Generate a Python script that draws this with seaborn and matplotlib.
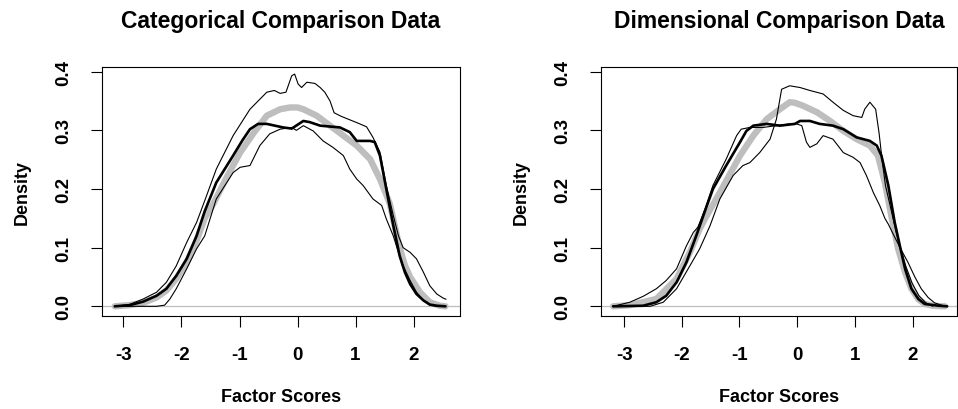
import matplotlib
matplotlib.use("Agg")
import matplotlib.pyplot as plt
import seaborn as sns

# ---------------- data ----------------
titles = ["Categorical Comparison Data", "Dimensional Comparison Data"]
x_label = "Factor Scores"
y_label = "Density"
x_ticks = [-3, -2, -1, 0, 1, 2]
y_ticks = [0.0, 0.1, 0.2, 0.3, 0.4]
y_tick_labels = ["0.0", "0.1", "0.2", "0.3", "0.4"]

# Categorical panel
cat_gray_x = [-3.15, -2.9, -2.66, -2.43, -2.26, -2.09, -1.91, -1.74, -1.60, -1.45, -1.22, -0.99,
              -0.76, -0.53, -0.30, -0.13, 0.0, 0.10, 0.33, 0.56, 0.79, 1.02, 1.25, 1.42, 1.51,
              1.59, 1.68, 1.76, 1.85, 1.94, 2.11, 2.28, 2.45, 2.55]
cat_gray_y = [0.0, 0.002, 0.006, 0.015, 0.027, 0.047, 0.075, 0.112, 0.15, 0.175, 0.22, 0.262,
              0.295, 0.325, 0.336, 0.339, 0.339, 0.336, 0.325, 0.308, 0.291, 0.274, 0.251, 0.217, 0.195,
              0.175, 0.135, 0.10, 0.07, 0.05, 0.024, 0.007, 0.001, 0.0]

cat_thick_x = [-3.15, -2.89, -2.66, -2.43, -2.26, -2.09, -1.91, -1.74, -1.60, -1.40, -1.11, -0.95,
               -0.82, -0.68, -0.53, -0.25, -0.10, 0.10, 0.21, 0.39, 0.73, 0.90, 1.02, 1.25, 1.33,
               1.42, 1.53, 1.65, 1.76, 1.85, 1.94, 2.05, 2.17, 2.28, 2.40, 2.55]
cat_thick_y = [0.0, 0.002, 0.008, 0.018, 0.03, 0.052, 0.081, 0.12, 0.162, 0.211, 0.257, 0.283,
               0.302, 0.311, 0.311, 0.305, 0.303, 0.316, 0.314, 0.308, 0.305, 0.297, 0.282, 0.282, 0.280,
               0.257, 0.2, 0.138, 0.086, 0.058, 0.038, 0.021, 0.010, 0.003, 0.001, 0.0]

cat_hi_x = [-3.15, -2.9, -2.66, -2.43, -2.26, -2.09, -1.91, -1.74, -1.60, -1.40, -1.11, -0.82,
            -0.53, -0.40, -0.30, -0.20, -0.10, -0.05, 0.01, 0.07, 0.16, 0.30, 0.39, 0.47, 0.56,
            0.63, 0.75, 0.90, 1.05, 1.19, 1.30, 1.42, 1.53, 1.65, 1.74, 1.82, 1.94, 2.05, 2.17,
            2.28, 2.40, 2.51, 2.56]
cat_hi_y = [0.0, 0.003, 0.0125, 0.024, 0.041, 0.069, 0.109, 0.143, 0.18, 0.234, 0.291, 0.336,
            0.365, 0.368, 0.363, 0.365, 0.393, 0.396, 0.379, 0.373, 0.382, 0.380, 0.373, 0.365, 0.350,
            0.330, 0.324, 0.318, 0.312, 0.306, 0.288, 0.263, 0.206, 0.155, 0.12, 0.10, 0.092, 0.081, 0.058,
            0.035, 0.021, 0.014, 0.012]

cat_lo_x = [-3.15, -2.43, -2.29, -2.20, -2.09, -1.91, -1.74, -1.60, -1.40, -1.11, -0.99, -0.82,
            -0.65, -0.48, -0.30, -0.10, -0.02, 0.10, 0.27, 0.44, 0.61, 0.79, 0.90, 1.02, 1.13,
            1.30, 1.45, 1.53, 1.65, 1.74, 1.82, 1.94, 2.05, 2.17, 2.28, 2.40, 2.52]
cat_lo_y = [0.0, 0.0, 0.002, 0.0125, 0.03, 0.064, 0.098, 0.12, 0.183, 0.228, 0.237, 0.240,
            0.274, 0.294, 0.302, 0.305, 0.300, 0.308, 0.299, 0.282, 0.271, 0.257, 0.234, 0.217, 0.206,
            0.183, 0.172, 0.149, 0.12, 0.092, 0.069, 0.044, 0.024, 0.01, 0.002, 0.0, 0.0]

# Dimensional panel
dim_gray_x = [-3.19, -2.9, -2.44, -2.09, -1.86, -1.69, -1.60, -1.34, -0.99, -0.76, -0.53, -0.30,
              -0.13, -0.04, 0.10, 0.34, 0.57, 0.80, 1.03, 1.26, 1.40, 1.52, 1.64, 1.75, 1.87,
              1.98, 2.10, 2.21, 2.35, 2.56]
dim_gray_y = [0.0, 0.002, 0.0125, 0.047, 0.092, 0.132, 0.149, 0.194, 0.257, 0.291, 0.319, 0.336,
              0.348, 0.347, 0.342, 0.331, 0.316, 0.299, 0.285, 0.274, 0.257, 0.211, 0.15, 0.098, 0.058,
              0.03, 0.012, 0.004, 0.001, 0.0]

dim_thick_x = [-3.19, -2.67, -2.44, -2.27, -2.09, -1.92, -1.75, -1.60, -1.46, -1.23, -0.99, -0.88,
               -0.76, -0.53, -0.30, -0.04, 0.05, 0.22, 0.39, 0.62, 0.80, 1.03, 1.26, 1.38, 1.46,
               1.58, 1.69, 1.78, 1.87, 1.98, 2.10, 2.21, 2.45, 2.60]
dim_thick_y = [0.0, 0.001, 0.007, 0.018, 0.041, 0.075, 0.12, 0.162, 0.2, 0.240, 0.280, 0.299,
               0.308, 0.311, 0.308, 0.311, 0.316, 0.316, 0.311, 0.308, 0.302, 0.288, 0.282, 0.274, 0.257,
               0.206, 0.143, 0.103, 0.064, 0.030, 0.0125, 0.004, 0.001, 0.0]

dim_hi_x = [-3.19, -2.55, -2.32, -2.09, -1.86, -1.69, -1.51, -1.34, -1.11, -0.94, -0.82, -0.65,
            -0.47, -0.36, -0.27, -0.13, 0.05, 0.22, 0.45, 0.62, 0.80, 0.97, 1.12, 1.17, 1.26,
            1.36, 1.42, 1.47, 1.53, 1.65, 1.76, 1.88, 1.99, 2.11, 2.23, 2.35]
dim_hi_y = [0.0, 0.0, 0.007, 0.03, 0.069, 0.098, 0.1375, 0.183, 0.223, 0.240, 0.245, 0.262,
            0.285, 0.319, 0.370, 0.376, 0.373, 0.368, 0.362, 0.348, 0.334, 0.325, 0.322, 0.336, 0.348,
            0.336, 0.295, 0.251, 0.206, 0.155, 0.109, 0.069, 0.04, 0.018, 0.006, 0.0]

dim_lo_x = [-3.19, -2.90, -2.67, -2.44, -2.27, -2.09, -1.92, -1.80, -1.72, -1.60, -1.46, -1.23,
            -1.05, -0.97, -0.82, -0.59, -0.36, -0.13, -0.01, 0.08, 0.16, 0.22, 0.34, 0.45, 0.62,
            0.80, 0.97, 1.09, 1.20, 1.32, 1.43, 1.52, 1.58, 1.69, 1.81, 1.92, 2.04, 2.15, 2.27,
            2.38, 2.50, 2.58]
dim_lo_y = [0.0, 0.007, 0.017, 0.03, 0.044, 0.064, 0.103, 0.126, 0.135, 0.165, 0.206, 0.251,
            0.291, 0.302, 0.305, 0.305, 0.308, 0.311, 0.311, 0.308, 0.280, 0.271, 0.277, 0.291, 0.285,
            0.262, 0.254, 0.245, 0.223, 0.194, 0.172, 0.150, 0.14, 0.118, 0.095, 0.075, 0.05, 0.03, 0.015,
            0.006, 0.002, 0.0]

panels = [
    dict(title=titles[0], gray=(cat_gray_x, cat_gray_y), thick=(cat_thick_x, cat_thick_y),
         thin=[(cat_hi_x, cat_hi_y), (cat_lo_x, cat_lo_y)], xlim=(-3.37, 2.80)),
    dict(title=titles[1], gray=(dim_gray_x, dim_gray_y), thick=(dim_thick_x, dim_thick_y),
         thin=[(dim_hi_x, dim_hi_y), (dim_lo_x, dim_lo_y)], xlim=(-3.40, 2.77)),
]

# ---------------- styling ----------------
sns.set_style("white")
plt.rcParams['font.family'] = ['Liberation Sans', 'DejaVu Sans']
plt.rcParams['font.weight'] = 'bold'
plt.rcParams['text.color'] = 'black'
plt.rcParams['axes.labelcolor'] = 'black'
plt.rcParams['xtick.color'] = 'black'
plt.rcParams['ytick.color'] = 'black'

W, H = 958, 410
fig = plt.figure(figsize=(W / 100, H / 100), dpi=100)

# axes boxes in pixels: (left, right, top, bottom)
boxes = [(102, 460, 68, 317), (601, 957, 68, 317)]
GRAY = "#BEBEBE"

for p, (l, r, t, b) in zip(panels, boxes):
    ax = fig.add_axes([l / W, 1 - b / H, (r - l) / W, (b - t) / H])
    ax.axhline(0, color=GRAY, lw=0.9, zorder=1)
    sns.lineplot(x=p["gray"][0], y=p["gray"][1], ax=ax, color=GRAY, linewidth=4.6,
                 estimator=None, sort=False, zorder=2)
    for tx, ty in p["thin"]:
        sns.lineplot(x=tx, y=ty, ax=ax, color="black", linewidth=0.8,
                     estimator=None, sort=False, zorder=3)
    sns.lineplot(x=p["thick"][0], y=p["thick"][1], ax=ax, color="black", linewidth=1.9,
                 estimator=None, sort=False, zorder=4)

    ax.set_xlim(*p["xlim"])
    ax.set_ylim(-0.0165, 0.408)
    ax.set_xticks(x_ticks)
    ax.set_xticklabels([str(v) for v in x_ticks])
    ax.set_yticks(y_ticks)
    ax.set_yticklabels(y_tick_labels, rotation=90, va="center")
    ax.tick_params(axis="both", direction="out", length=7.9, width=0.8, pad=13.5,
                   labelsize=13.5, color="black", labelcolor="black", left=True, bottom=True)
    for s in ax.spines.values():
        s.set_visible(True)
        s.set_color("black")
        s.set_linewidth(0.8)

    ax_w = r - l
    ax_h = b - t
    ax.set_title(p["title"], fontsize=16.5, fontweight="bold", color="black",
                 y=1 + 46 / ax_h, va="center", pad=0)
    ax.set_xlabel(x_label, fontsize=13, fontweight="bold", va="center", color="black")
    ax.xaxis.set_label_coords(0.5, -81 / ax_h)
    ax.set_ylabel(y_label, fontsize=13, fontweight="bold", va="center", color="black")
    ax.yaxis.set_label_coords(-80 / ax_w, 0.5)

fig.savefig("out.png", dpi=100)
